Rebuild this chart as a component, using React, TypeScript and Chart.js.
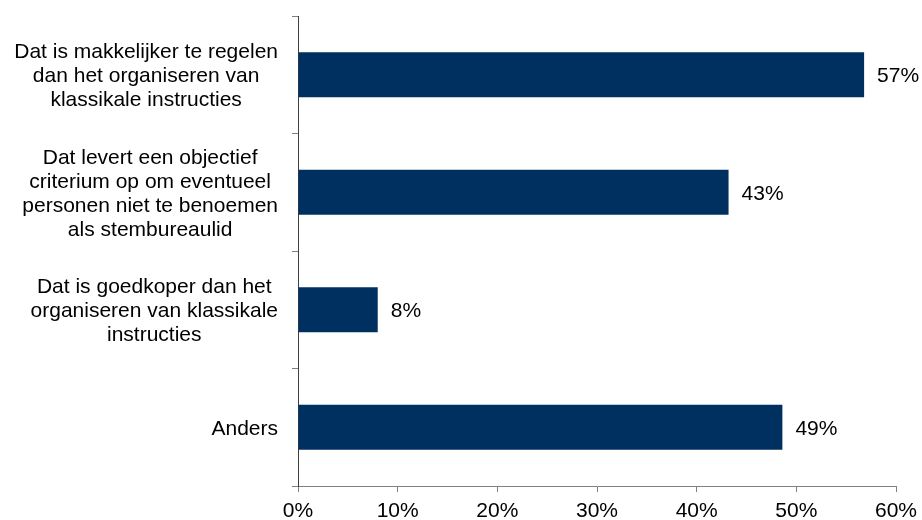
import React, { useEffect, useRef } from "react";
import { Chart, registerables } from "chart.js";

Chart.register(...registerables);

const categories: string[][] = [
  ["Dat is makkelijker te regelen", "dan het organiseren van", "klassikale instructies"],
  ["Dat levert een objectief", "criterium op om eventueel", "personen niet te benoemen", "als stembureaulid"],
  ["Dat is goedkoper dan het", "organiseren van klassikale", "instructies"],
  ["Anders"],
];
const values = [56.8, 43.2, 8.0, 48.6];
const valueLabels = ["57%", "43%", "8%", "49%"];
const xMin = 0;
const xMax = 60;
const xStep = 10;

const FONT = '"Liberation Sans", Arial, Helvetica, sans-serif';
const BAR_COLOR = "#003060";

const labelPlugin = {
  id: "customLabels",
  afterDraw(chart: any) {
    const ctx = chart.ctx;
    const yScale = chart.scales.y;
    ctx.save();
    ctx.fillStyle = "#000000";
    ctx.font = `21px ${FONT}`;
    ctx.textBaseline = "alphabetic";
    ctx.textAlign = "center";
    const rightEdge = chart.chartArea.left - 20;
    const lineH = 24;
    categories.forEach((lines, i) => {
      const cy = yScale.getPixelForValue(i);
      const maxW = Math.max(...lines.map((l) => ctx.measureText(l).width));
      const cx = rightEdge - maxW / 2;
      const n = lines.length;
      lines.forEach((line, j) => {
        const y = cy + (j - (n - 1) / 2) * lineH + 7.5;
        ctx.fillText(line, cx, y);
      });
    });
    // value labels
    const meta = chart.getDatasetMeta(0);
    ctx.textAlign = "left";
    ctx.textBaseline = "alphabetic";
    meta.data.forEach((bar: any, i: number) => {
      ctx.fillText(valueLabels[i], bar.x + 13, bar.y + 7.5);
    });
    ctx.restore();
  },
};

export default function App() {
  const ref = useRef<HTMLCanvasElement | null>(null);
  useEffect(() => {
    document.body.style.margin = "0";
    const canvas = ref.current!;
    const chart = new Chart(canvas, {
      type: "bar",
      data: {
        labels: categories.map((c) => c.join(" ")),
        datasets: [
          {
            data: values,
            backgroundColor: BAR_COLOR,
            borderWidth: 0,
            barPercentage: 0.383,
            categoryPercentage: 1,
          },
        ],
      },
      options: {
        indexAxis: "y",
        animation: false,
        responsive: false,
        maintainAspectRatio: false,
        devicePixelRatio: 1,
        layout: { padding: { top: 16, right: 26, left: 0, bottom: 0 } },
        plugins: {
          legend: { display: false },
          tooltip: { enabled: false },
        },
        scales: {
          x: {
            min: xMin,
            max: xMax,
            ticks: {
              stepSize: xStep,
              color: "#000000",
              font: { family: FONT, size: 21 },
              padding: 7,
              callback: (v: any) => `${v}%`,
              maxRotation: 0,
            },
            grid: {
              drawOnChartArea: false,
              drawTicks: true,
              tickLength: 6,
              color: "#808080",
              lineWidth: 1,
            },
            border: { display: true, color: "#808080", width: 1 },
            afterFit: (s: any) => {
              s.height = 34;
              s.paddingLeft = 0;
              s.paddingRight = 0;
            },
          },
          y: {
            ticks: { display: false },
            grid: {
              drawOnChartArea: false,
              drawTicks: true,
              tickLength: 6,
              color: "#808080",
              offset: true,
              lineWidth: 1,
            },
            border: { display: true, color: "#404040", width: 1 },
            afterFit: (s: any) => {
              s.width = 298;
              s.paddingTop = 0;
              s.paddingBottom = 0;
            },
          },
        },
      },
      plugins: [labelPlugin],
    } as any);
    return () => chart.destroy();
  }, []);
  return (
    <div style={{ width: 922, height: 520, background: "#ffffff" }}>
      <canvas ref={ref} width={922} height={520} style={{ display: "block" }} />
    </div>
  );
}
